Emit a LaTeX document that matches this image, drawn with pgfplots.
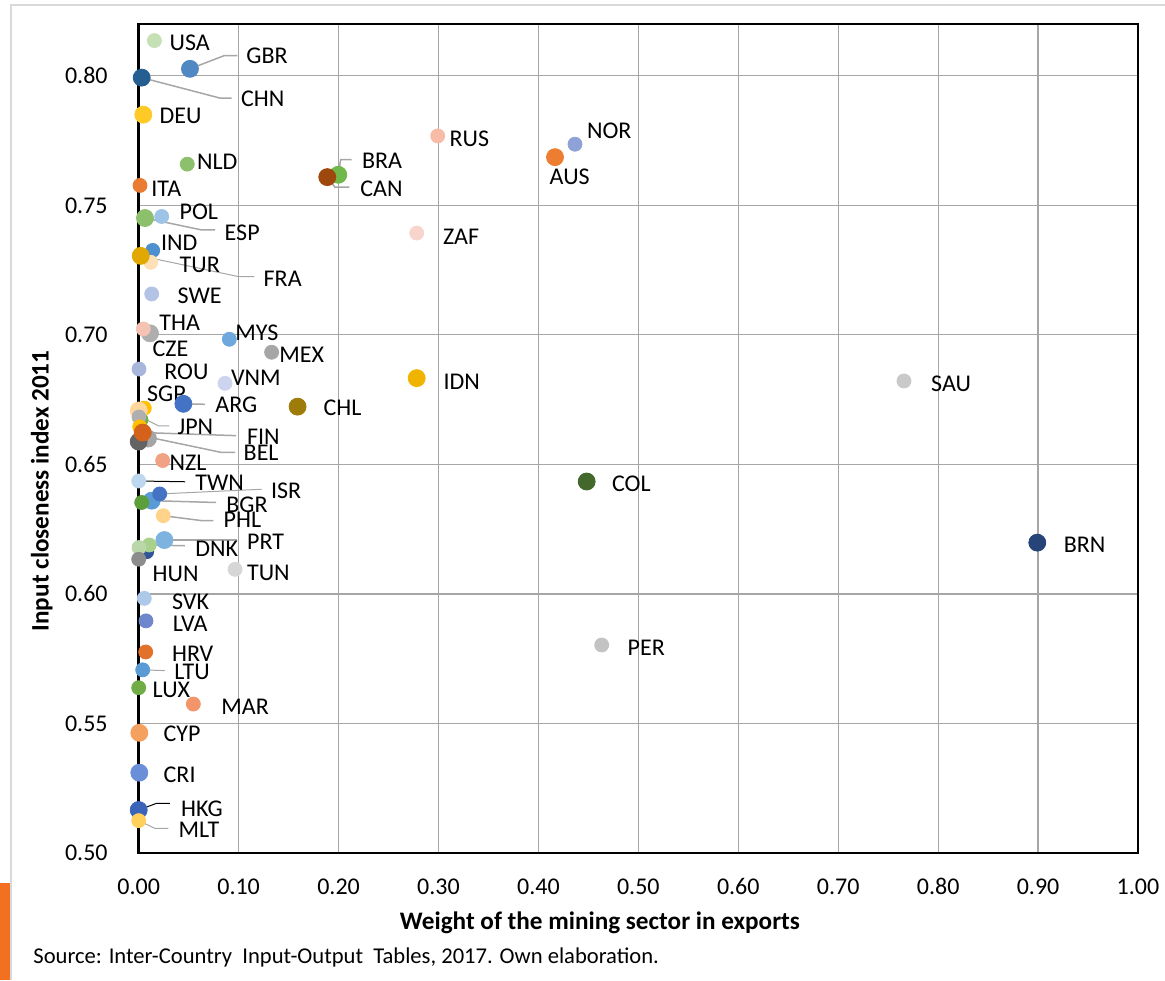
\documentclass[border=0pt]{standalone}
\usepackage{fontspec}
\setmainfont{Carlito}
\usepackage{pgfplots}
\pgfplotsset{compat=1.18}

% one colour per country
\definecolor{cUSA}{HTML}{C5E0B4}
\definecolor{cGBR}{HTML}{4F88C2}
\definecolor{cCHN}{HTML}{255E91}
\definecolor{cDEU}{HTML}{FFCA28}
\definecolor{cNLD}{HTML}{8CC06C}
\definecolor{cITA}{HTML}{E97B33}
\definecolor{cPOL}{HTML}{9DC3E6}
\definecolor{cESP}{HTML}{8CC06C}
\definecolor{cIND}{HTML}{4E8FD0}
\definecolor{cFRA}{HTML}{E0A800}
\definecolor{cTUR}{HTML}{FDE0B6}
\definecolor{cSWE}{HTML}{B4C2E6}
\definecolor{cTHA}{HTML}{F4C3B4}
\definecolor{cCZE}{HTML}{AEAEAE}
\definecolor{cMYS}{HTML}{6FA8DC}
\definecolor{cMEX}{HTML}{A6A6A6}
\definecolor{cROU}{HTML}{A9B6DC}
\definecolor{cVNM}{HTML}{CDD4EE}
\definecolor{cSGPa}{HTML}{FFC000}
\definecolor{cSGP}{HTML}{FFD79C}
\definecolor{cARG}{HTML}{4472C4}
\definecolor{cCHL}{HTML}{9E7C0A}
\definecolor{cJPNg}{HTML}{70AD47}
\definecolor{cJPN}{HTML}{AFAFAF}
\definecolor{cFINa}{HTML}{FFC000}
\definecolor{cFIN}{HTML}{D5621A}
\definecolor{cBEL}{HTML}{A5A5A5}
\definecolor{cDGR}{HTML}{636363}
\definecolor{cNZL}{HTML}{F1A184}
\definecolor{cTWN}{HTML}{BDD7EE}
\definecolor{cISR}{HTML}{4472C4}
\definecolor{cBGR}{HTML}{5B9BD5}
\definecolor{cBGRg}{HTML}{5C9E3A}
\definecolor{cPHL}{HTML}{FFD48A}
\definecolor{cPRT}{HTML}{7EB3E0}
\definecolor{cDNK}{HTML}{A9D18E}
\definecolor{cDBL}{HTML}{2F5597}
\definecolor{cLGR}{HTML}{B9D7A8}
\definecolor{cHUN}{HTML}{8C8C8C}
\definecolor{cTUN}{HTML}{D6D6D6}
\definecolor{cSVK}{HTML}{ADC8E8}
\definecolor{cLVA}{HTML}{6E86CC}
\definecolor{cHRV}{HTML}{E2712A}
\definecolor{cLTU}{HTML}{5B9BD5}
\definecolor{cLUX}{HTML}{70AD47}
\definecolor{cMAR}{HTML}{F2956B}
\definecolor{cCYP}{HTML}{F4A05E}
\definecolor{cCRI}{HTML}{6A8FD8}
\definecolor{cHKG}{HTML}{3A64B8}
\definecolor{cMLT}{HTML}{FFD05A}
\definecolor{cBRA}{HTML}{70B84A}
\definecolor{cCAN}{HTML}{9E480E}
\definecolor{cRUS}{HTML}{F8BBA8}
\definecolor{cNOR}{HTML}{8FA2D8}
\definecolor{cAUS}{HTML}{ED7D31}
\definecolor{cZAF}{HTML}{F8D5CC}
\definecolor{cIDN}{HTML}{F0B400}
\definecolor{cSAU}{HTML}{C9C9C9}
\definecolor{cCOL}{HTML}{43682B}
\definecolor{cPER}{HTML}{C3C3C3}
\definecolor{cBRN}{HTML}{264478}
\definecolor{gridgray}{HTML}{A6A6A6}
\definecolor{framegray}{HTML}{D9D9D9}
\definecolor{barorange}{HTML}{F37021}

% \pt{x}{y}{colour}{radius}
\newcommand{\pt}[4]{\addplot[only marks, mark=*, mark size=#4, color=#3,
  mark options={draw=#3, fill=#3}, forget plot] coordinates {(#1,#2)};}
\def\S{3.5pt}
\def\L{4.25pt}

\begin{document}
\begin{tikzpicture}[
    lbl/.style={anchor=west, inner sep=0pt, font=\fontsize{12}{14}\selectfont},
    lead/.style={gridgray, line width=0.75pt},
    leadk/.style={black, line width=0.5pt}]
\path[use as bounding box] (-69.35pt,-63.5pt) rectangle (513.15pt,426.5pt);
% outer chart frame and side bar
\draw[framegray, line width=1pt] (-63.6pt,-63.5pt) -- (-63.6pt,423.75pt) -- (513.15pt,423.75pt);
\fill[barorange] (-69.35pt,-63.5pt) rectangle (-64.35pt,-15pt);

\begin{axis}[
    at={(0,0)}, anchor=south west,
    scale only axis,
    width=499.65pt, height=414.5pt,
    xmin=0, xmax=1, ymin=0.5, ymax=0.82,
    xtick={0,0.1,...,1.0},
    ytick={0.5,0.55,...,0.80},
    grid=major,
    major grid style={gridgray, line width=0.6pt},
    axis line style={black, line width=1.2pt},
    major tick length=0pt,
    tick label style={font=\fontsize{12}{14}\selectfont, inner sep=0pt},
    /pgf/number format/.cd, fixed, fixed zerofill, precision=2, assume math mode=true,
    /pgfplots/.cd,
    xticklabel style={anchor=center, yshift=-16.8pt},
    yticklabel style={anchor=east, xshift=-15.35pt},
    xlabel={Weight of the mining sector in exports},
    ylabel={Input closeness index 2011},
    label style={font=\bfseries\fontsize{12.6}{14}\selectfont, inner sep=0pt},
    xlabel style={at={(axis description cs:0.4616,-0.0844)}, anchor=center},
    ylabel style={at={(axis description cs:-0.0971,0.4367)}, anchor=center},
]
% points
\pt{0.0157}{0.8136}{cUSA}{\S}
\pt{0.0513}{0.8027}{cGBR}{\L}
\pt{0.003}{0.7993}{cCHN}{\L}
\pt{0.0046}{0.785}{cDEU}{\L}
\pt{0.0486}{0.7659}{cNLD}{\S}
\pt{0.0013}{0.7577}{cITA}{\S}
\pt{0.023}{0.7457}{cPOL}{\S}
\pt{0.0063}{0.7451}{cESP}{\L}
\pt{0.014}{0.7326}{cIND}{\S}
\pt{0.012}{0.728}{cTUR}{\S}
\pt{0.002}{0.7305}{cFRA}{\L}
\pt{0.013}{0.7158}{cSWE}{\S}
\pt{0.0113}{0.7006}{cCZE}{\L}
\pt{0.0046}{0.7023}{cTHA}{\S}
\pt{0.0907}{0.6983}{cMYS}{\S}
\pt{0.133}{0.6933}{cMEX}{\S}
\pt{0.0003}{0.6868}{cROU}{\S}
\pt{0.0864}{0.6813}{cVNM}{\S}
\pt{0.0056}{0.6717}{cSGPa}{\S}
\pt{0.0023}{0.6672}{cJPNg}{\S}
\pt{0.0001}{0.6708}{cSGP}{\L}
\pt{0.0003}{0.6683}{cJPN}{\S}
\pt{0.0447}{0.6734}{cARG}{\L}
\pt{0.159}{0.6723}{cCHL}{\L}
\pt{0.001}{0.6645}{cFINa}{\S}
\pt{0.0093}{0.6600}{cBEL}{\L}
\pt{0}{0.6588}{cDGR}{\L}
\pt{0.004}{0.6623}{cFIN}{\L}
\pt{0.024}{0.6515}{cNZL}{\S}
\pt{0}{0.6436}{cTWN}{\S}
\pt{0.013}{0.636}{cBGR}{\L}
\pt{0.021}{0.6386}{cISR}{\S}
\pt{0.003}{0.6353}{cBGRg}{\S}
\pt{0.0246}{0.6302}{cPHL}{\S}
\pt{0.0257}{0.6208}{cPRT}{\L}
\pt{0.008}{0.6163}{cDBL}{\S}
\pt{0.0106}{0.6189}{cDNK}{\S}
\pt{0.0003}{0.6179}{cLGR}{\S}
\pt{0}{0.6134}{cHUN}{\S}
\pt{0.0964}{0.6095}{cTUN}{\S}
\pt{0.0056}{0.5983}{cSVK}{\S}
\pt{0.0073}{0.5896}{cLVA}{\S}
\pt{0.007}{0.5776}{cHRV}{\S}
\pt{0.004}{0.5707}{cLTU}{\S}
\pt{0}{0.5638}{cLUX}{\S}
\pt{0.0547}{0.5575}{cMAR}{\S}
\pt{0.0006}{0.5464}{cCYP}{\L}
\pt{0.0006}{0.531}{cCRI}{\L}
\pt{0}{0.5166}{cHKG}{\L}
\pt{0}{0.5125}{cMLT}{\S}
\pt{0.1997}{0.7618}{cBRA}{\L}
\pt{0.1887}{0.7609}{cCAN}{\L}
\pt{0.2992}{0.7768}{cRUS}{\S}
\pt{0.4366}{0.7736}{cNOR}{\S}
\pt{0.4166}{0.7686}{cAUS}{\L}
\pt{0.2782}{0.7393}{cZAF}{\S}
\pt{0.2782}{0.6833}{cIDN}{\L}
\pt{0.7658}{0.6822}{cSAU}{\S}
\pt{0.4483}{0.6434}{cCOL}{\L}
\pt{0.4633}{0.5803}{cPER}{\S}
\pt{0.8992}{0.6198}{cBRN}{\L}

% leader lines
\draw[lead] (axis cs:0.0513,0.8027) -- (axis cs:0.0857,0.8078) -- (axis cs:0.0987,0.8078);
\draw[lead] (axis cs:0.003,0.7993) -- (axis cs:0.0814,0.7914) -- (axis cs:0.0931,0.7914);
\draw[lead] (axis cs:0.0063,0.7451) -- (axis cs:0.063,0.7405) -- (axis cs:0.0764,0.7405);
\draw[lead, line width=0.5pt] (axis cs:0.002,0.7305) -- (axis cs:0.0997,0.7225) -- (axis cs:0.1157,0.7225);
\draw[lead] (axis cs:0.0447,0.6734) -- (axis cs:0.0663,0.6732);
\draw[lead, line width=0.5pt] (axis cs:0.0013,0.6685) -- (axis cs:0.0196,0.6649) -- (axis cs:0.0306,0.6649);
\draw[lead] (axis cs:0.004,0.6623) -- (axis cs:0.0974,0.6611);
\draw[lead] (axis cs:0.004,0.6610) -- (axis cs:0.0831,0.6546) -- (axis cs:0.0964,0.6546);
\draw[leadk] (axis cs:0,0.6436) -- (axis cs:0.0464,0.6433);
\draw[lead, line width=0.5pt] (axis cs:0.021,0.6386) -- (axis cs:0.1231,0.6404);
\draw[lead] (axis cs:0.013,0.636) -- (axis cs:0.0774,0.6353);
\draw[lead] (axis cs:0.0246,0.6302) -- (axis cs:0.063,0.6283) -- (axis cs:0.0747,0.6283);
\draw[lead] (axis cs:0.0257,0.6208) -- (axis cs:0.0981,0.6208);
\draw[lead] (axis cs:0.0106,0.6189) -- (axis cs:0.0463,0.6186);
\draw[lead, line width=0.5pt] (axis cs:0.004,0.5707) -- (axis cs:0.0263,0.5704);
\draw[leadk] (axis cs:0,0.5166) -- (axis cs:0.018,0.5192) -- (axis cs:0.0313,0.5192);
\draw[lead, line width=0.5pt] (axis cs:0,0.5125) -- (axis cs:0.0163,0.5095) -- (axis cs:0.0296,0.5095);
\draw[lead] (axis cs:0.1997,0.7618) -- (axis cs:0.2021,0.7676) -- (axis cs:0.2131,0.7676);
\draw[lead] (axis cs:0.1887,0.7609) -- (axis cs:0.1964,0.757) -- (axis cs:0.2108,0.757);

% labels
\node[lbl] at (axis cs:0.0306,0.8129) {USA};
\node[lbl] at (axis cs:0.1074,0.8077) {GBR};
\node[lbl] at (axis cs:0.1021,0.7911) {CHN};
\node[lbl] at (axis cs:0.0206,0.7846) {DEU};
\node[lbl] at (axis cs:0.058,0.7667) {NLD};
\node[lbl] at (axis cs:0.0123,0.7564) {ITA};
\node[lbl] at (axis cs:0.0406,0.7476) {POL};
\node[lbl] at (axis cs:0.0857,0.7393) {ESP};
\node[lbl] at (axis cs:0.022,0.7356) {IND};
\node[lbl] at (axis cs:0.0406,0.727) {TUR};
\node[lbl] at (axis cs:0.1247,0.7215) {FRA};
\node[lbl] at (axis cs:0.0386,0.7151) {SWE};
\node[lbl] at (axis cs:0.0203,0.7045) {THA};
\node[lbl] at (axis cs:0.0136,0.6945) {CZE};
\node[lbl] at (axis cs:0.0964,0.7007) {MYS};
\node[lbl] at (axis cs:0.1404,0.6923) {MEX};
\node[lbl] at (axis cs:0.0253,0.6858) {ROU};
\node[lbl] at (axis cs:0.0921,0.6833) {VNM};
\node[lbl] at (axis cs:0.008,0.6772) {SGP};
\node[lbl] at (axis cs:0.0764,0.673) {ARG};
\node[lbl] at (axis cs:0.1847,0.6717) {CHL};
\node[lbl] at (axis cs:0.0386,0.6644) {JPN};
\node[lbl] at (axis cs:0.1081,0.6607) {FIN};
\node[lbl] at (axis cs:0.1047,0.6543) {BEL};
\node[lbl] at (axis cs:0.0306,0.6505) {NZL};
\node[lbl] at (axis cs:0.0563,0.643) {TWN};
\node[lbl] at (axis cs:0.1321,0.6398) {ISR};
\node[lbl] at (axis cs:0.0874,0.6346) {BGR};
\node[lbl] at (axis cs:0.0847,0.6286) {PHL};
\node[lbl] at (axis cs:0.1081,0.6202) {PRT};
\node[lbl] at (axis cs:0.0563,0.6176) {DNK};
\node[lbl] at (axis cs:0.0136,0.6077) {HUN};
\node[lbl] at (axis cs:0.1081,0.6082) {TUN};
\node[lbl] at (axis cs:0.033,0.597) {SVK};
\node[lbl] at (axis cs:0.0337,0.5883) {LVA};
\node[lbl] at (axis cs:0.033,0.5768) {HRV};
\node[lbl] at (axis cs:0.0353,0.5698) {LTU};
\node[lbl] at (axis cs:0.0136,0.5629) {LUX};
\node[lbl] at (axis cs:0.0824,0.5563) {MAR};
\node[lbl] at (axis cs:0.0246,0.5459) {CYP};
\node[lbl] at (axis cs:0.0246,0.5301) {CRI};
\node[lbl] at (axis cs:0.042,0.5172) {HKG};
\node[lbl] at (axis cs:0.0396,0.5091) {MLT};
\node[lbl] at (axis cs:0.2232,0.7672) {BRA};
\node[lbl] at (axis cs:0.2215,0.7563) {CAN};
\node[lbl] at (axis cs:0.3108,0.7757) {RUS};
\node[lbl] at (axis cs:0.4483,0.7789) {NOR};
\node[lbl] at (axis cs:0.4109,0.7609) {AUS};
\node[lbl] at (axis cs:0.3042,0.738) {ZAF};
\node[lbl] at (axis cs:0.3048,0.682) {IDN};
\node[lbl] at (axis cs:0.4733,0.6427) {COL};
\node[lbl] at (axis cs:0.4889,0.5794) {PER};
\node[lbl] at (axis cs:0.7926,0.6813) {SAU};
\node[lbl] at (axis cs:0.9253,0.6189) {BRN};
\end{axis}

\node[anchor=west, inner sep=0pt, font=\fontsize{11.3}{14}\selectfont]
  at (-52.85pt,-52pt) {Source: Inter-Country\ \ Input-Output\ \ Tables, 2017. Own elaboration.};
\end{tikzpicture}
\end{document}
